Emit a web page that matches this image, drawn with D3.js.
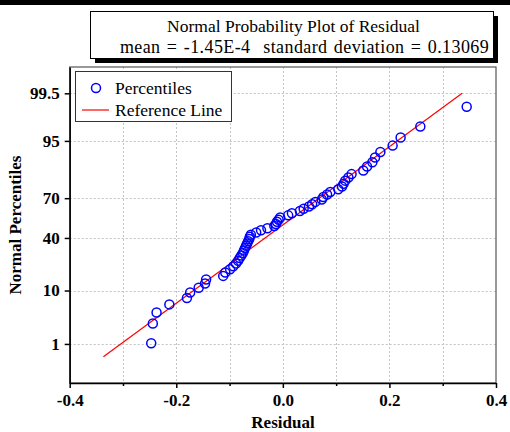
<!DOCTYPE html>
<html><head><meta charset="utf-8">
<script src="https://cdn.jsdelivr.net/npm/d3@7"></script>
<style>
body{margin:0;background:#fff;}
</style>
</head><body><svg id="c" width="510" height="432" font-family="Liberation Serif, Times New Roman, serif"></svg>
<script>
// ---- data ----
const residuals = [-0.247,-0.244,-0.237,-0.213,-0.180,-0.174,-0.158,-0.146,-0.144,-0.112,
  -0.108,-0.099,-0.093,-0.088,-0.084,-0.081,-0.078,-0.075,-0.073,-0.071,
  -0.069,-0.067,-0.065,-0.063,-0.062,-0.060,-0.050,-0.041,-0.029,-0.016,
  -0.013,-0.011,-0.008,-0.005,0.010,0.017,0.032,0.039,0.049,0.055,
  0.061,0.073,0.076,0.083,0.089,0.104,0.111,0.114,0.117,0.123,
  0.129,0.151,0.158,0.168,0.173,0.183,0.206,0.221,0.258,0.345];
const percentiles = [1.04,2.70,4.36,6.02,7.68,9.34,11.00,12.66,14.32,15.98,
  17.63,19.29,20.95,22.61,24.27,25.93,27.59,29.25,30.91,32.57,
  34.23,35.89,37.55,39.21,40.87,42.53,44.19,45.85,47.51,49.17,
  50.83,52.49,54.15,55.81,57.47,59.13,60.79,62.45,64.11,65.77,
  67.43,69.09,70.75,72.41,74.07,75.73,77.39,79.05,80.71,82.37,
  84.02,85.68,87.34,89.00,90.66,92.32,93.98,95.64,97.30,98.96];
const yTickValues = [1,10,40,70,95,99.5];
const yTickLabels = ["1","10","40","70","95","99.5"];
const xTickValues = [-0.4,-0.2,0,0.2,0.4];
const xTickLabels = ["-0.4","-0.2","0.0","0.2","0.4"];
const xMinorTicks = [-0.3,-0.1,0.1,0.3];
const xGridValues = [-0.3,-0.2,-0.1,0,0.1,0.2,0.3];
const refMean = -1.45e-4, refSD = 0.13069;
const refPercentRange = [0.5, 99.5];
const yPercentDomain = [0.1, 99.9];
const titleLines = ["Normal Probability Plot of Residual","mean = -1.45E-4  standard deviation = 0.13069"];
const legendLabels = ["Percentiles","Reference Line"];
const xTitle = "Residual", yTitle = "Normal Percentiles";

const FONT = "Liberation Serif, Times New Roman, serif";

// inverse normal CDF (Acklam)
function probit(p){
  const a=[-3.969683028665376e+01,2.209460984245205e+02,-2.759285104469687e+02,1.383577518672690e+02,-3.066479806614716e+01,2.506628277459239e+00];
  const b=[-5.447609879822406e+01,1.615858368580409e+02,-1.556989798598866e+02,6.680131188771972e+01,-1.328068155288572e+01];
  const c=[-7.784894002430293e-03,-3.223964580411365e-01,-2.400758277161838e+00,-2.549732539343734e+00,4.374664141464968e+00,2.938163982698783e+00];
  const d=[7.784695709041462e-03,3.224671290700398e-01,2.445134137142996e+00,3.754408661907416e+00];
  const pl=0.02425, ph=1-pl; let q,r;
  if(p<pl){q=Math.sqrt(-2*Math.log(p));return (((((c[0]*q+c[1])*q+c[2])*q+c[3])*q+c[4])*q+c[5])/((((d[0]*q+d[1])*q+d[2])*q+d[3])*q+1);}
  if(p<=ph){q=p-0.5;r=q*q;return (((((a[0]*r+a[1])*r+a[2])*r+a[3])*r+a[4])*r+a[5])*q/(((((b[0]*r+b[1])*r+b[2])*r+b[3])*r+b[4])*r+1);}
  q=Math.sqrt(-2*Math.log(1-p));return -(((((c[0]*q+c[1])*q+c[2])*q+c[3])*q+c[4])*q+c[5])/((((d[0]*q+d[1])*q+d[2])*q+d[3])*q+1);
}

const svg = d3.select("#c");
const L=69.7, R=496, T=67, B=383;
const x = d3.scaleLinear().domain([-0.4,0.4]).range([L,R]);
const y = d3.scaleLinear().domain(yPercentDomain.map(p=>probit(p/100))).range([B,T]);
const yp = p => y(probit(p/100));

// top dark strip
svg.append("rect").attr("x",0).attr("y",0).attr("width",510).attr("height",5).attr("fill","#000");

// title box with shadow
const tb = svg.append("g");
tb.append("rect").attr("x",95).attr("y",16).attr("width",403).attr("height",47).attr("fill","#000");
tb.append("rect").attr("x",90.5).attr("y",11.5).attr("width",403).attr("height",47).attr("fill","#fff").attr("stroke","#000").attr("stroke-width",1);
const titleX = [293.5, 304.5], titleFS = [17.5, 18], titleLS = [0, 0.4], titleWS = [0, 1.5];
tb.selectAll("text").data(titleLines).join("text")
  .attr("x",(d,i)=>titleX[i]).attr("y",(d,i)=>32+i*21).attr("text-anchor","middle")
  .attr("font-family",FONT).attr("font-size",(d,i)=>titleFS[i]).attr("xml:space","preserve")
  .style("white-space","pre").style("letter-spacing",(d,i)=>titleLS[i]+"px")
  .style("word-spacing",(d,i)=>titleWS[i]+"px").text(d=>d);

// plot frame background
svg.append("rect").attr("x",L).attr("y",T).attr("width",R-L).attr("height",B-T).attr("fill","#fff");

// grid
const grid = svg.append("g").attr("stroke","#c4c4c4").attr("stroke-dasharray","2,2").attr("stroke-width",1);
grid.selectAll(".gx").data(xGridValues).join("line")
  .attr("x1",d=>Math.round(x(d))+0.5).attr("x2",d=>Math.round(x(d))+0.5).attr("y1",T).attr("y2",B);
grid.selectAll(".gy").data(yTickValues).join("line")
  .attr("y1",d=>Math.round(yp(d))+0.5).attr("y2",d=>Math.round(yp(d))+0.5).attr("x1",L).attr("x2",R);

// frame
svg.append("rect").attr("x",L).attr("y",T).attr("width",R-L).attr("height",B-T)
  .attr("fill","none").attr("stroke","#555").attr("stroke-width",1.2);

// axes
const xAxis = svg.append("g").attr("transform",`translate(0,${B})`)
  .call(d3.axisBottom(x).tickValues(xTickValues).tickFormat((d,i)=>xTickLabels[i]).tickSize(5).tickSizeOuter(0).tickPadding(6));
const xMinor = svg.append("g").attr("transform",`translate(0,${B})`)
  .call(d3.axisBottom(x).tickValues(xMinorTicks).tickFormat("").tickSize(3).tickSizeOuter(0));
xMinor.select(".domain").remove();
const yAxis = svg.append("g").attr("transform",`translate(${L},0)`)
  .call(d3.axisLeft(y).tickValues(yTickValues.map(p=>probit(p/100))).tickFormat((d,i)=>yTickLabels[i]).tickSize(5).tickSizeOuter(0).tickPadding(5));
[xAxis,yAxis,xMinor].forEach(g=>{
  g.attr("font-family",FONT);
  g.selectAll("path,line").attr("stroke","#000").attr("stroke-width",1.5);
  g.selectAll("text").attr("font-size",17).attr("font-weight","bold").attr("fill","#000")
    .attr("font-family",FONT);
});

// axis titles
svg.append("text").attr("x",283).attr("y",428).attr("text-anchor","middle").attr("font-family",FONT)
  .attr("font-size",17).attr("font-weight","bold").text(xTitle);
svg.append("text").attr("transform",`translate(21,${(T+B)/2}) rotate(-90)`).attr("text-anchor","middle").attr("font-family",FONT)
  .attr("font-size",17).attr("font-weight","bold").text(yTitle);

// reference line
svg.append("line")
  .attr("x1",x(refMean+refSD*probit(refPercentRange[0]/100))).attr("y1",yp(refPercentRange[0]))
  .attr("x2",x(refMean+refSD*probit(refPercentRange[1]/100))).attr("y2",yp(refPercentRange[1]))
  .attr("stroke","#ff0000").attr("stroke-width",1.2);

// points
svg.append("g").selectAll("circle").data(residuals).join("circle")
  .attr("cx",d=>x(d)).attr("cy",(d,i)=>yp(percentiles[i])).attr("r",4.5)
  .attr("fill","none").attr("stroke","#0000ff").attr("stroke-width",1.5);

// legend
const lg = svg.append("g");
lg.append("rect").attr("x",75.5).attr("y",71.5).attr("width",156).attr("height",50)
  .attr("fill","#fff").attr("stroke","#333").attr("stroke-width",1);
lg.append("circle").attr("cx",96).attr("cy",88).attr("r",4.5).attr("fill","none").attr("stroke","#0000ff").attr("stroke-width",1.5);
lg.append("line").attr("x1",82).attr("x2",109).attr("y1",110).attr("y2",110).attr("stroke","#ff0000").attr("stroke-width",1.2);
lg.selectAll("text").data(legendLabels).join("text")
  .attr("x",115).attr("y",(d,i)=>94+i*22).attr("font-family",FONT).attr("font-size",17.5).text(d=>d);
</script>
</body></html>
